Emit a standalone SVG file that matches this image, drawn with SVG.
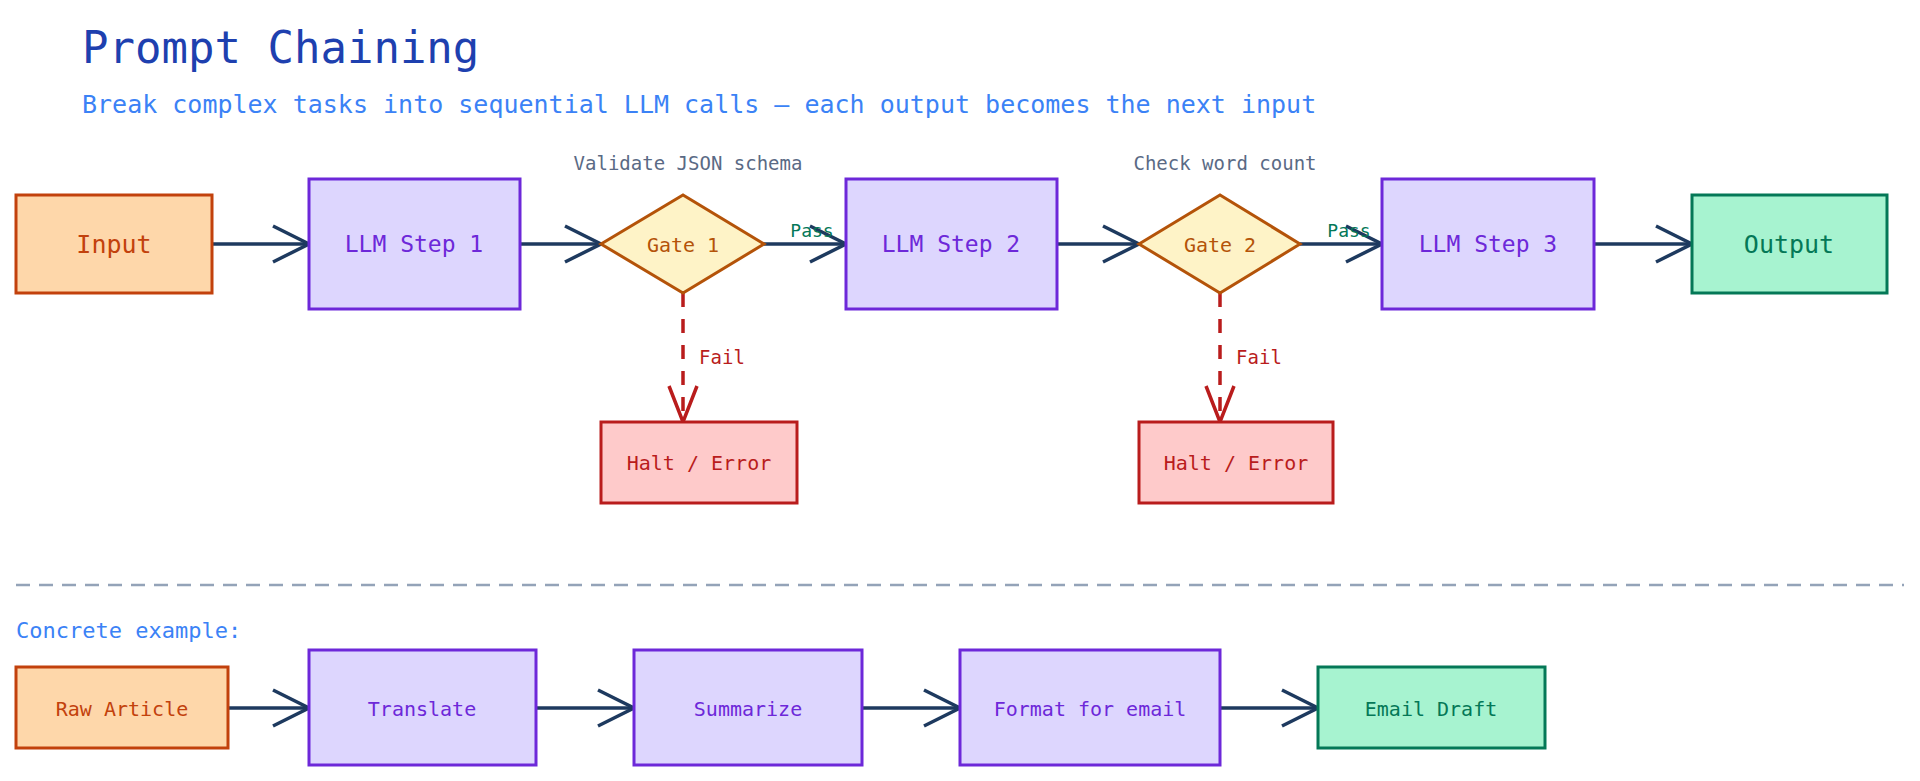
<svg xmlns="http://www.w3.org/2000/svg" width="1920" height="781" viewBox="0 0 1920 781">
<defs>
<style>
text{font-family:"DejaVu Sans Mono","Liberation Mono",monospace;text-anchor:middle;dominant-baseline:central}
.in rect{fill:#fed7aa;stroke:#c2410c;stroke-width:3}.in text{fill:#c2410c}
.llm rect{fill:#ddd6fe;stroke:#6d28d9;stroke-width:3}.llm text{fill:#6d28d9}
.gate polygon{fill:#fef3c7;stroke:#b45309;stroke-width:3}.gate text{fill:#b45309;font-size:20px}
.halt rect{fill:#fecaca;stroke:#b91c1c;stroke-width:3}.halt text{fill:#b91c1c;font-size:20px}
.out rect{fill:#a7f3d0;stroke:#047857;stroke-width:3}.out text{fill:#047857}
.big text{font-size:25px}.mid text{font-size:23px}.sm text{font-size:20px}
.e{stroke:#1e3a5f;stroke-width:3.5;fill:none}
.f{stroke:#b91c1c;stroke-width:3.5;fill:none;stroke-dasharray:14 12}
</style>
<marker id="a" markerUnits="userSpaceOnUse" markerWidth="44" markerHeight="40" refX="38" refY="20" orient="auto"><path d="M2,2 L38,20 L2,38" fill="none" stroke="#1e3a5f" stroke-width="3.5"/></marker>
<marker id="r" markerUnits="userSpaceOnUse" markerWidth="44" markerHeight="40" refX="38" refY="20" orient="auto"><path d="M2,6 L38,20 L2,34" fill="none" stroke="#b91c1c" stroke-width="3.5"/></marker>
</defs>
<rect width="1920" height="781" fill="#fff"/>
<text x="82" y="47" style="font-size:44px;fill:#1e40af;text-anchor:start">Prompt Chaining</text>
<text x="82" y="104" style="font-size:25px;fill:#3b82f6;text-anchor:start">Break complex tasks into sequential LLM calls — each output becomes the next input</text>
<text x="688" y="163" style="font-size:19px;fill:#5a6a85">Validate JSON schema</text>
<text x="1225" y="163" style="font-size:19px;fill:#5a6a85">Check word count</text>
<g id="connectors">
<line class="e" x1="212" y1="244" x2="309" y2="244" marker-end="url(#a)"/>
<line class="e" x1="520" y1="244" x2="601" y2="244" marker-end="url(#a)"/>
<line class="e" x1="764" y1="244" x2="846" y2="244" marker-end="url(#a)"/>
<line class="e" x1="1057" y1="244" x2="1139" y2="244" marker-end="url(#a)"/>
<line class="e" x1="1300" y1="244" x2="1382" y2="244" marker-end="url(#a)"/>
<line class="e" x1="1594" y1="244" x2="1692" y2="244" marker-end="url(#a)"/>
<line class="f" x1="683" y1="293" x2="683" y2="422" marker-end="url(#r)"/>
<line class="f" x1="1220" y1="293" x2="1220" y2="422" marker-end="url(#r)"/>
<text x="812" y="230" style="font-size:18px;fill:#047857">Pass</text>
<text x="1349" y="230" style="font-size:18px;fill:#047857">Pass</text>
<text x="722" y="357" style="font-size:19px;fill:#b91c1c">Fail</text>
<text x="1259" y="357" style="font-size:19px;fill:#b91c1c">Fail</text>
<line x1="16" y1="585" x2="1904" y2="585" stroke="#94a3b8" stroke-width="2.5" stroke-dasharray="14 9"/>
<line class="e" x1="228" y1="708" x2="309" y2="708" marker-end="url(#a)"/>
<line class="e" x1="536" y1="708" x2="634" y2="708" marker-end="url(#a)"/>
<line class="e" x1="862" y1="708" x2="960" y2="708" marker-end="url(#a)"/>
<line class="e" x1="1220" y1="708" x2="1318" y2="708" marker-end="url(#a)"/>
</g>
<g id="input" class="in big"><rect x="16" y="195" width="196" height="98"/><text x="114" y="244">Input</text></g>
<g id="step1" class="llm mid"><rect x="309" y="179" width="211" height="130"/><text x="414" y="244">LLM Step 1</text></g>
<g id="gate1" class="gate"><polygon points="601,244 683,195 764,244 683,293"/><text x="683" y="245">Gate 1</text></g>
<g id="step2" class="llm mid"><rect x="846" y="179" width="211" height="130"/><text x="951" y="244">LLM Step 2</text></g>
<g id="gate2" class="gate"><polygon points="1139,244 1220,195 1300,244 1220,293"/><text x="1220" y="245">Gate 2</text></g>
<g id="step3" class="llm mid"><rect x="1382" y="179" width="212" height="130"/><text x="1488" y="244">LLM Step 3</text></g>
<g id="output" class="out big"><rect x="1692" y="195" width="195" height="98"/><text x="1789" y="244">Output</text></g>
<g id="halt1" class="halt"><rect x="601" y="422" width="196" height="81"/><text x="699" y="463">Halt / Error</text></g>
<g id="halt2" class="halt"><rect x="1139" y="422" width="194" height="81"/><text x="1236" y="463">Halt / Error</text></g>
<text x="16" y="630" style="font-size:22px;fill:#3b82f6;text-anchor:start">Concrete example:</text>
<g id="raw" class="in sm"><rect x="16" y="667" width="212" height="81"/><text x="122" y="709">Raw Article</text></g>
<g id="translate" class="llm sm"><rect x="309" y="650" width="227" height="115"/><text x="422" y="709">Translate</text></g>
<g id="summarize" class="llm sm"><rect x="634" y="650" width="228" height="115"/><text x="748" y="709">Summarize</text></g>
<g id="format" class="llm sm"><rect x="960" y="650" width="260" height="115"/><text x="1090" y="709">Format for email</text></g>
<g id="email" class="out sm"><rect x="1318" y="667" width="227" height="81"/><text x="1431" y="709">Email Draft</text></g>
</svg>
